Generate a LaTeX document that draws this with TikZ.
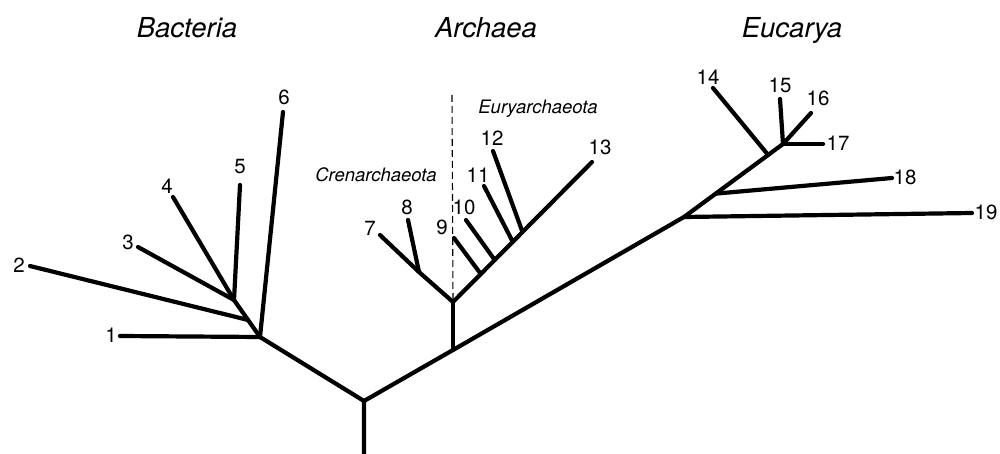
\documentclass[tikz,border=0pt]{standalone}
\usepackage{fontspec}
\setmainfont{TeX Gyre Heros}
\usetikzlibrary{calc}
\begin{document}
\begin{tikzpicture}[x=1pt,y=-1pt,
  branch/.style={line width=4.2pt, line cap=round, line join=round},
  divider/.style={line width=1.1pt, dash pattern=on 7pt off 4pt},
  num/.style={inner sep=0pt, font=\fontsize{20.5}{23}\selectfont},
  domtitle/.style={inner sep=0pt, anchor=base, font=\fontsize{27.5}{30}\selectfont\itshape},
  phylum/.style={inner sep=0pt, anchor=base, font=\fontsize{18.5}{21}\selectfont\itshape}]
\useasboundingbox (0,0) rectangle (1000,454);

% domain titles
\node[domtitle] (tB) at (187,38) {Bacteria};
\node[domtitle] (tA) at (486,38) {Archaea};
\node[domtitle] (tE) at (792,38) {Eucarya};
\node[phylum] (cren) at (376,182) {Crenarchaeota};
\node[phylum] (eury) at (538,114) {Euryarchaeota};

% main skeleton
\coordinate (base) at (364,454);
\coordinate (R) at (364,401);
\coordinate (B) at (260,337);
\coordinate (B2) at (234,300);
\coordinate (J2) at ($(B)!0.46!(B2)$);
\coordinate (A) at (453,350);
\coordinate (A2) at (453,302);
\coordinate (E19) at (684,217);
\coordinate (E2) at (783,144);
\coordinate (E18) at ($(E19)!0.32!(E2)$);
\coordinate (E14) at ($(E19)!0.85!(E2)$);

% leaf ends
\coordinate (L1) at (120,336);
\coordinate (L2) at (30,266);
\coordinate (L3) at (138,247);
\coordinate (L4) at (173,197);
\coordinate (L5) at (240,185);
\coordinate (L6) at (283,112);
\coordinate (L7) at (380,235);
\coordinate (L8) at (408,220);
\coordinate (L9) at (454,238);
\coordinate (L10) at (466,220);
\coordinate (L11) at (484,186);
\coordinate (L12) at (493,151);
\coordinate (L13) at (592,162);
\coordinate (L14) at (713,88);
\coordinate (L15) at (780,99);
\coordinate (L16) at (811,113);
\coordinate (L17) at (823,144);
\coordinate (L18) at (892,178);
\coordinate (L19) at (972,213);

\coordinate (J8) at (419,272);
\coordinate (J9) at ($(A2)!0.2!(L13)$);
\coordinate (J10) at ($(A2)!0.3!(L13)$);
\coordinate (J11) at ($(A2)!0.43!(L13)$);
\coordinate (J12) at ($(A2)!0.5!(L13)$);

% dashed divider
\coordinate (D1) at (452,95);
\draw[divider] (D1) -- (A2);

% branches
\draw[branch] (base) -- (R) -- (B);
\draw[branch] (R) -- (A) -- (E19) -- (E2);
\draw[branch] (B) -- (B2);
\draw[branch] (L1) -- (B);
\draw[branch] (L6) -- (B);
\draw[branch] (L2) -- (J2);
\draw[branch] (L3) -- (B2);
\draw[branch] (L4) -- (B2);
\draw[branch] (L5) -- (B2);

\draw[branch] (A) -- (A2);
\draw[branch] (A2) -- (J8) -- (L7);
\draw[branch] (L8) -- (J8);
\draw[branch] (A2) -- (L13);
\draw[branch] (L9) -- (J9);
\draw[branch] (L10) -- (J10);
\draw[branch] (L11) -- (J11);
\draw[branch] (L12) -- (J12);

\draw[branch] (L19) -- (E19);
\draw[branch] (L18) -- (E18);
\draw[branch] (L14) -- (E14);
\draw[branch] (L15) -- (E2);
\draw[branch] (L16) -- (E2);
\draw[branch] (L17) -- (E2);

% leaf labels
\node[num] (n1) at (111,335) {1};
\node[num] (n2) at (19,265) {2};
\node[num] (n3) at (128,242) {3};
\node[num] (n4) at (167,186) {4};
\node[num] (n5) at (240,167) {5};
\node[num] (n6) at (284,97) {6};
\node[num] (n7) at (370,228) {7};
\node[num] (n8) at (407,207) {8};
\node[num] (n9) at (442,227) {9};
\node[num] (n10) at (464,207) {10};
\node[num] (n11) at (478,175) {11};
\node[num] (n12) at (492,138) {12};
\node[num] (n13) at (600,147) {13};
\node[num] (n14) at (708,77) {14};
\node[num] (n15) at (780,85) {15};
\node[num] (n16) at (818,98) {16};
\node[num] (n17) at (838,143) {17};
\node[num] (n18) at (905,177) {18};
\node[num] (n19) at (986,212) {19};
\end{tikzpicture}
\end{document}
